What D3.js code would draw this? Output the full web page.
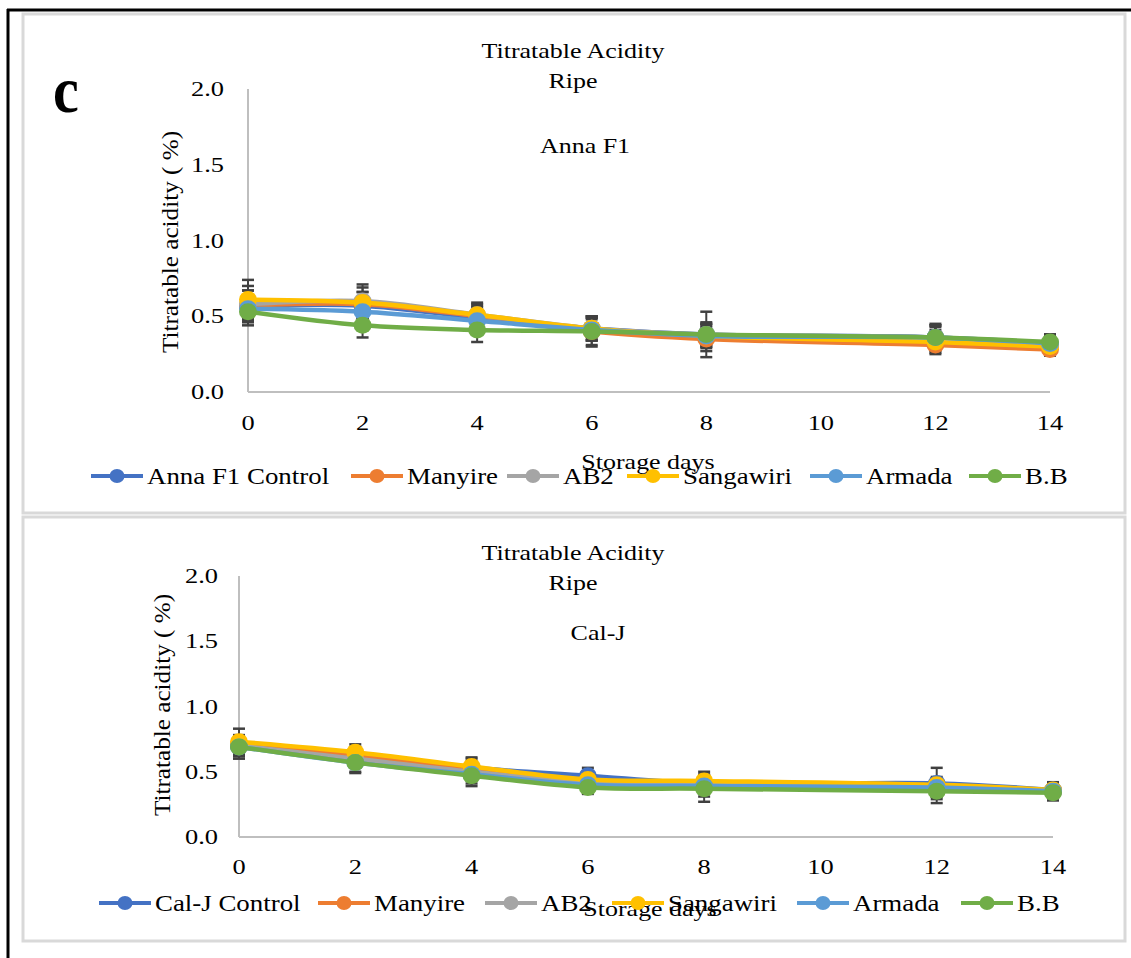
<!DOCTYPE html>
<html>
<head>
<meta charset="utf-8">
<script src="https://cdn.jsdelivr.net/npm/d3@7"></script>
<style>
html,body{margin:0;padding:0;background:#fff;}
svg{display:block;}
text{font-family:"Liberation Serif","Times New Roman",serif;fill:#000;}
</style>
</head>
<body>
<svg id="chart" width="1131" height="958"></svg>
<script>
// ---------- DATA ----------
const days = [0, 2, 4, 6, 8, 12, 14];
const xTicks = [0, 2, 4, 6, 8, 10, 12, 14];
const yTicks = [0.0, 0.5, 1.0, 1.5, 2.0];
const seriesColors = ["#4472C4", "#ED7D31", "#A5A5A5", "#FFC000", "#5B9BD5", "#70AD47"];

// Panel 1: Anna F1
const annaNames = ["Anna F1 Control", "Manyire", "AB2", "Sangawiri", "Armada", "B.B"];
const annaControl   = [0.57, 0.57, 0.49, 0.42, 0.38, 0.36, 0.31];
const annaManyire   = [0.57, 0.58, 0.50, 0.40, 0.35, 0.31, 0.28];
const annaAB2       = [0.58, 0.60, 0.51, 0.42, 0.38, 0.36, 0.32];
const annaSangawiri = [0.61, 0.59, 0.51, 0.42, 0.37, 0.33, 0.30];
const annaArmada    = [0.55, 0.53, 0.47, 0.41, 0.37, 0.36, 0.32];
const annaBB        = [0.53, 0.44, 0.41, 0.40, 0.38, 0.36, 0.33];
const annaErrControl   = [0.10, 0.09, 0.07, 0.08, 0.15, 0.08, 0.06];
const annaErrManyire   = [0.10, 0.08, 0.07, 0.09, 0.08, 0.05, 0.04];
const annaErrAB2       = [0.12, 0.11, 0.07, 0.08, 0.08, 0.09, 0.05];
const annaErrSangawiri = [0.13, 0.10, 0.08, 0.07, 0.08, 0.08, 0.05];
const annaErrArmada    = [0.08, 0.08, 0.06, 0.07, 0.07, 0.08, 0.06];
const annaErrBB        = [0.09, 0.08, 0.08, 0.10, 0.07, 0.07, 0.05];

// Panel 2: Cal-J
const calNames = ["Cal-J Control", "Manyire", "AB2", "Sangawiri", "Armada", "B.B"];
const calControl   = [0.70, 0.62, 0.53, 0.47, 0.41, 0.41, 0.36];
const calManyire   = [0.71, 0.63, 0.52, 0.43, 0.40, 0.37, 0.35];
const calAB2       = [0.70, 0.60, 0.50, 0.42, 0.40, 0.38, 0.35];
const calSangawiri = [0.73, 0.65, 0.54, 0.44, 0.43, 0.40, 0.36];
const calArmada    = [0.69, 0.57, 0.48, 0.40, 0.39, 0.38, 0.35];
const calBB        = [0.69, 0.57, 0.47, 0.38, 0.37, 0.35, 0.34];
const calErrControl   = [0.08, 0.06, 0.07, 0.06, 0.07, 0.12, 0.06];
const calErrManyire   = [0.07, 0.06, 0.06, 0.05, 0.06, 0.06, 0.05];
const calErrAB2       = [0.08, 0.06, 0.06, 0.05, 0.06, 0.07, 0.05];
const calErrSangawiri = [0.10, 0.06, 0.07, 0.06, 0.07, 0.06, 0.05];
const calErrArmada    = [0.07, 0.07, 0.07, 0.05, 0.08, 0.07, 0.05];
const calErrBB        = [0.09, 0.08, 0.08, 0.05, 0.10, 0.09, 0.06];

// ---------- DRAW ----------
const svg = d3.select("#chart");

function txt(g, x, y, s, o = {}) {
  return g.append("text")
    .attr("transform", `translate(${x},${y})` + (o.rotate ? ` rotate(${o.rotate})` : "") + ` scale(${o.sx || 1.16},1)`)
    .attr("text-anchor", o.anchor || "middle")
    .style("font-size", (o.size || 22) + "px")
    .style("font-weight", o.weight || "normal")
    .text(s);
}

// outer black frame
svg.append("line").attr("x1", 7).attr("x2", 1131).attr("y1", 10).attr("y2", 10).attr("stroke", "#000").attr("stroke-width", 3);
svg.append("line").attr("x1", 8).attr("x2", 8).attr("y1", 9).attr("y2", 958).attr("stroke", "#000").attr("stroke-width", 3);

function panel(cfg) {
  const g = svg.append("g");
  g.append("rect").attr("x", cfg.box[0]).attr("y", cfg.box[1]).attr("width", cfg.box[2]).attr("height", cfg.box[3])
    .attr("fill", "#fff").attr("stroke", "#d9d9d9").attr("stroke-width", 3);

  const x = d3.scaleLinear().domain([0, 14]).range(cfg.xr);
  const y = d3.scaleLinear().domain([0, 2]).range(cfg.yr);

  g.append("line").attr("x1", x(0)).attr("x2", x(0)).attr("y1", y(2)).attr("y2", y(0)).attr("stroke", "#bfbfbf").attr("stroke-width", 2);
  g.append("line").attr("x1", x(0)).attr("x2", x(14)).attr("y1", y(0)).attr("y2", y(0)).attr("stroke", "#bfbfbf").attr("stroke-width", 2);

  yTicks.forEach(v => txt(g, cfg.yLabelX, y(v) + 7, v.toFixed(1), { anchor: "end", size: 22, sx: 1.2 }));
  xTicks.forEach(v => txt(g, x(v), cfg.xLabelY, String(v), { anchor: "middle", size: 22, sx: 1.2 }));

  txt(g, cfg.titleX, cfg.titleY, "Titratable Acidity", { size: 22, sx: 1.18 });
  txt(g, cfg.titleX, cfg.titleY + 30, "Ripe", { size: 22, sx: 1.18 });
  txt(g, cfg.subX, cfg.subY, cfg.sub, { size: 22, sx: 1.18 });
  txt(g, cfg.yTitleX, cfg.yTitleY, "Titratable acidity ( %)", { size: 24, rotate: -90, sx: 1.05 });

  const line = d3.line().x((d, i) => x(days[i])).y(d => y(d)).curve(d3.curveCatmullRom.alpha(0.5));

  const eg = g.append("g");
  cfg.series.forEach(s => {
    s.vals.forEach((v, i) => {
      const e = s.err[i];
      const cx = x(days[i]);
      eg.append("line").attr("x1", cx).attr("x2", cx).attr("y1", y(v + e)).attr("y2", y(v - e)).attr("stroke", "#404040").attr("stroke-width", 2);
      [v + e, v - e].forEach(w => eg.append("line").attr("x1", cx - 6).attr("x2", cx + 6).attr("y1", y(w)).attr("y2", y(w)).attr("stroke", "#404040").attr("stroke-width", 2.5));
    });
  });

  cfg.series.forEach((s, si) => {
    g.append("path").datum(s.vals).attr("d", line).attr("fill", "none").attr("stroke", seriesColors[si]).attr("stroke-width", 4.5).attr("stroke-linejoin", "round");
    g.selectAll(null).data(s.vals).enter().append("ellipse")
      .attr("cx", (d, i) => x(days[i])).attr("cy", d => y(d)).attr("rx", 9).attr("ry", 8.5)
      .attr("fill", seriesColors[si]);
  });

  txt(g, cfg.xTitleX, cfg.xTitleY, "Storage days", { size: 22, sx: 1.18 });

  // legend (Excel layout positions)
  cfg.series.forEach((s, si) => {
    const ig = g.append("g").attr("transform", `translate(${cfg.legendX[si]},${cfg.legendY})`);
    ig.append("line").attr("x1", 0).attr("x2", 52).attr("y1", 0).attr("y2", 0).attr("stroke", seriesColors[si]).attr("stroke-width", 4);
    ig.append("ellipse").attr("cx", 26).attr("cy", 0).attr("rx", 7.5).attr("ry", 7).attr("fill", seriesColors[si]);
    txt(ig, 56, 8, s.name, { anchor: "start", size: 24, sx: 1.12 });
  });
}

function mk(names, vals, errs) {
  return names.map((n, i) => ({ name: n, vals: vals[i], err: errs[i] }));
}

panel({
  box: [23, 14, 1102, 499],
  xr: [248, 1050], yr: [392, 89],
  yLabelX: 224, xLabelY: 430,
  titleX: 573, titleY: 58, subX: 585, subY: 153, sub: "Anna F1",
  yTitleX: 178, yTitleY: 242,
  xTitleX: 648, xTitleY: 469,
  legendX: [91, 351, 507, 627, 810, 969], legendY: 476,
  series: mk(annaNames,
    [annaControl, annaManyire, annaAB2, annaSangawiri, annaArmada, annaBB],
    [annaErrControl, annaErrManyire, annaErrAB2, annaErrSangawiri, annaErrArmada, annaErrBB])
});

panel({
  box: [23, 517, 1102, 424],
  xr: [239, 1053], yr: [837, 576],
  yLabelX: 218, xLabelY: 874,
  titleX: 573, titleY: 560, subX: 598, subY: 640, sub: "Cal-J",
  yTitleX: 170, yTitleY: 705,
  xTitleX: 650, xTitleY: 916,
  legendX: [99, 318, 485, 612, 797, 961], legendY: 903,
  series: mk(calNames,
    [calControl, calManyire, calAB2, calSangawiri, calArmada, calBB],
    [calErrControl, calErrManyire, calErrAB2, calErrSangawiri, calErrArmada, calErrBB])
});

// panel letter
txt(svg, 66, 112, "c", { size: 66, weight: "bold", sx: 0.88 });
</script>
</body>
</html>
